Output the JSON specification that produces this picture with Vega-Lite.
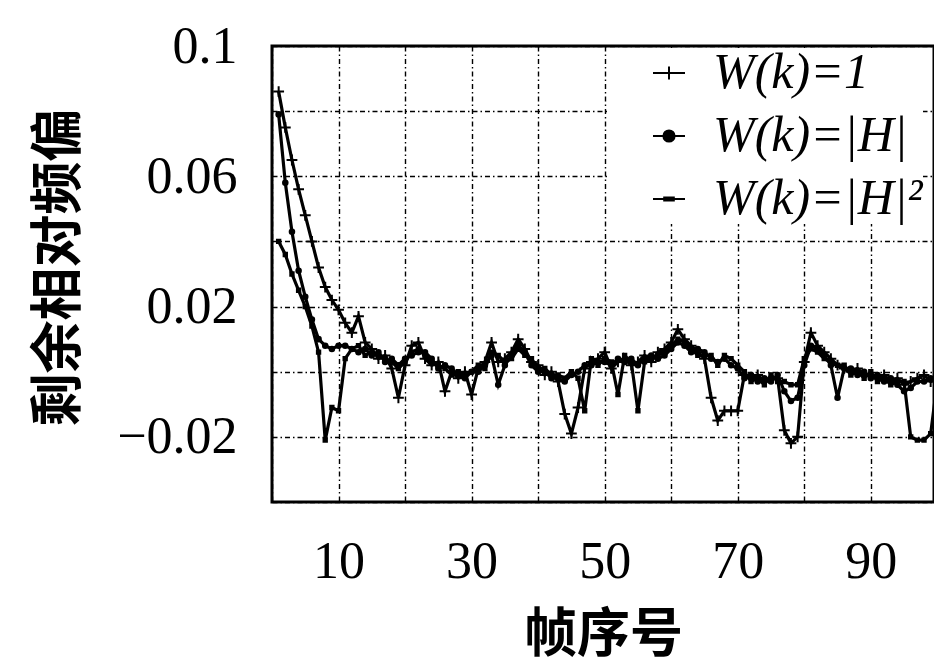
{
"$schema": "https://vega.github.io/schema/vega-lite/v6.json",
"width": 662, "height": 456,
"autosize": {"type": "none"},
"padding": {"left": 272, "top": 46, "right": 0, "bottom": 163},
"background": "white",
"config": {
  "view": {"stroke": "black", "strokeWidth": 3},
  "axis": {"domain": false, "ticks": false, "grid": true, "gridColor": "black", "gridDash": [5, 3, 1.5, 3], "gridWidth": 1.4, "gridOpacity": 1,
    "labelFont": "Liberation Serif", "labelFontSize": 52, "labelColor": "black", "labelOverlap": false, "labelBound": false, "labelFlush": false,
    "titleFont": "Noto Sans CJK SC", "titleFontSize": 53, "titleFontWeight": "bold", "titleColor": "black"}
},
"data": {"values": [
{"k":1,"s":"a","v":0.086},{"k":1,"s":"b","v":0.079},{"k":1,"s":"c","v":0.040},
{"k":2,"s":"a","v":0.075},{"k":2,"s":"b","v":0.058},{"k":2,"s":"c","v":0.036},
{"k":3,"s":"a","v":0.065},{"k":3,"s":"b","v":0.043},{"k":3,"s":"c","v":0.030},
{"k":4,"s":"a","v":0.056},{"k":4,"s":"b","v":0.031},{"k":4,"s":"c","v":0.025},
{"k":5,"s":"a","v":0.048},{"k":5,"s":"b","v":0.023},{"k":5,"s":"c","v":0.020},
{"k":6,"s":"a","v":0.040},{"k":6,"s":"b","v":0.016},{"k":6,"s":"c","v":0.014},
{"k":7,"s":"a","v":0.032},{"k":7,"s":"b","v":0.010},{"k":7,"s":"c","v":0.006},
{"k":8,"s":"a","v":0.026},{"k":8,"s":"b","v":0.008},{"k":8,"s":"c","v":-0.021},
{"k":9,"s":"a","v":0.022},{"k":9,"s":"b","v":0.007},{"k":9,"s":"c","v":-0.011},
{"k":10,"s":"a","v":0.019},{"k":10,"s":"b","v":0.008},{"k":10,"s":"c","v":-0.012},
{"k":11,"s":"a","v":0.015},{"k":11,"s":"b","v":0.008},{"k":11,"s":"c","v":0.004},
{"k":12,"s":"a","v":0.012},{"k":12,"s":"b","v":0.007},{"k":12,"s":"c","v":0.007},
{"k":13,"s":"a","v":0.017},{"k":13,"s":"b","v":0.006},{"k":13,"s":"c","v":0.008},
{"k":14,"s":"a","v":0.009},{"k":14,"s":"b","v":0.007},{"k":14,"s":"c","v":0.005},
{"k":15,"s":"a","v":0.007},{"k":15,"s":"b","v":0.005},{"k":15,"s":"c","v":0.006},
{"k":16,"s":"a","v":0.004},{"k":16,"s":"b","v":0.006},{"k":16,"s":"c","v":0.005},
{"k":17,"s":"a","v":0.005},{"k":17,"s":"b","v":0.003},{"k":17,"s":"c","v":0.004},
{"k":18,"s":"a","v":0.001},{"k":18,"s":"b","v":0.004},{"k":18,"s":"c","v":0.003},
{"k":19,"s":"a","v":-0.008},{"k":19,"s":"b","v":0.002},{"k":19,"s":"c","v":0.001},
{"k":20,"s":"a","v":0.002},{"k":20,"s":"b","v":0.004},{"k":20,"s":"c","v":0.003},
{"k":21,"s":"a","v":0.008},{"k":21,"s":"b","v":0.005},{"k":21,"s":"c","v":0.006},
{"k":22,"s":"a","v":0.009},{"k":22,"s":"b","v":0.006},{"k":22,"s":"c","v":0.007},
{"k":23,"s":"a","v":0.004},{"k":23,"s":"b","v":0.006},{"k":23,"s":"c","v":0.005},
{"k":24,"s":"a","v":0.002},{"k":24,"s":"b","v":0.004},{"k":24,"s":"c","v":0.003},
{"k":25,"s":"a","v":0.003},{"k":25,"s":"b","v":0.001},{"k":25,"s":"c","v":0.002},
{"k":26,"s":"a","v":-0.006},{"k":26,"s":"b","v":0.002},{"k":26,"s":"c","v":0.001},
{"k":27,"s":"a","v":0.000},{"k":27,"s":"b","v":0.001},{"k":27,"s":"c","v":-0.001},
{"k":28,"s":"a","v":-0.002},{"k":28,"s":"b","v":-0.001},{"k":28,"s":"c","v":0.000},
{"k":29,"s":"a","v":0.000},{"k":29,"s":"b","v":-0.002},{"k":29,"s":"c","v":-0.001},
{"k":30,"s":"a","v":-0.007},{"k":30,"s":"b","v":0.000},{"k":30,"s":"c","v":0.000},
{"k":31,"s":"a","v":0.001},{"k":31,"s":"b","v":0.000},{"k":31,"s":"c","v":0.002},
{"k":32,"s":"a","v":0.003},{"k":32,"s":"b","v":0.002},{"k":32,"s":"c","v":0.001},
{"k":33,"s":"a","v":0.009},{"k":33,"s":"b","v":0.005},{"k":33,"s":"c","v":0.006},
{"k":34,"s":"a","v":0.003},{"k":34,"s":"b","v":-0.004},{"k":34,"s":"c","v":0.005},
{"k":35,"s":"a","v":0.004},{"k":35,"s":"b","v":0.002},{"k":35,"s":"c","v":0.003},
{"k":36,"s":"a","v":0.006},{"k":36,"s":"b","v":0.005},{"k":36,"s":"c","v":0.004},
{"k":37,"s":"a","v":0.010},{"k":37,"s":"b","v":0.008},{"k":37,"s":"c","v":0.007},
{"k":38,"s":"a","v":0.007},{"k":38,"s":"b","v":0.006},{"k":38,"s":"c","v":0.005},
{"k":39,"s":"a","v":0.003},{"k":39,"s":"b","v":0.002},{"k":39,"s":"c","v":0.004},
{"k":40,"s":"a","v":0.002},{"k":40,"s":"b","v":0.000},{"k":40,"s":"c","v":0.001},
{"k":41,"s":"a","v":-0.001},{"k":41,"s":"b","v":0.000},{"k":41,"s":"c","v":0.001},
{"k":42,"s":"a","v":0.000},{"k":42,"s":"b","v":-0.002},{"k":42,"s":"c","v":-0.001},
{"k":43,"s":"a","v":-0.003},{"k":43,"s":"b","v":-0.002},{"k":43,"s":"c","v":-0.001},
{"k":44,"s":"a","v":-0.013},{"k":44,"s":"b","v":-0.003},{"k":44,"s":"c","v":-0.002},
{"k":45,"s":"a","v":-0.019},{"k":45,"s":"b","v":-0.001},{"k":45,"s":"c","v":0.000},
{"k":46,"s":"a","v":-0.011},{"k":46,"s":"b","v":0.000},{"k":46,"s":"c","v":-0.002},
{"k":47,"s":"a","v":0.001},{"k":47,"s":"b","v":0.002},{"k":47,"s":"c","v":-0.012},
{"k":48,"s":"a","v":0.003},{"k":48,"s":"b","v":0.002},{"k":48,"s":"c","v":0.004},
{"k":49,"s":"a","v":0.004},{"k":49,"s":"b","v":0.003},{"k":49,"s":"c","v":0.002},
{"k":50,"s":"a","v":0.006},{"k":50,"s":"b","v":0.003},{"k":50,"s":"c","v":0.004},
{"k":51,"s":"a","v":0.001},{"k":51,"s":"b","v":0.002},{"k":51,"s":"c","v":0.003},
{"k":52,"s":"a","v":0.003},{"k":52,"s":"b","v":0.004},{"k":52,"s":"c","v":-0.007},
{"k":53,"s":"a","v":0.004},{"k":53,"s":"b","v":0.003},{"k":53,"s":"c","v":0.005},
{"k":54,"s":"a","v":0.002},{"k":54,"s":"b","v":0.004},{"k":54,"s":"c","v":0.003},
{"k":55,"s":"a","v":0.003},{"k":55,"s":"b","v":0.002},{"k":55,"s":"c","v":-0.012},
{"k":56,"s":"a","v":0.005},{"k":56,"s":"b","v":0.004},{"k":56,"s":"c","v":0.003},
{"k":57,"s":"a","v":0.003},{"k":57,"s":"b","v":0.005},{"k":57,"s":"c","v":0.004},
{"k":58,"s":"a","v":0.006},{"k":58,"s":"b","v":0.004},{"k":58,"s":"c","v":0.005},
{"k":59,"s":"a","v":0.007},{"k":59,"s":"b","v":0.005},{"k":59,"s":"c","v":0.006},
{"k":60,"s":"a","v":0.009},{"k":60,"s":"b","v":0.007},{"k":60,"s":"c","v":0.008},
{"k":61,"s":"a","v":0.013},{"k":61,"s":"b","v":0.009},{"k":61,"s":"c","v":0.010},
{"k":62,"s":"a","v":0.010},{"k":62,"s":"b","v":0.008},{"k":62,"s":"c","v":0.009},
{"k":63,"s":"a","v":0.008},{"k":63,"s":"b","v":0.006},{"k":63,"s":"c","v":0.007},
{"k":64,"s":"a","v":0.006},{"k":64,"s":"b","v":0.007},{"k":64,"s":"c","v":0.005},
{"k":65,"s":"a","v":0.004},{"k":65,"s":"b","v":0.006},{"k":65,"s":"c","v":0.005},
{"k":66,"s":"a","v":-0.008},{"k":66,"s":"b","v":0.004},{"k":66,"s":"c","v":0.005},
{"k":67,"s":"a","v":-0.015},{"k":67,"s":"b","v":0.003},{"k":67,"s":"c","v":0.002},
{"k":68,"s":"a","v":-0.012},{"k":68,"s":"b","v":0.004},{"k":68,"s":"c","v":0.005},
{"k":69,"s":"a","v":-0.012},{"k":69,"s":"b","v":0.002},{"k":69,"s":"c","v":0.004},
{"k":70,"s":"a","v":-0.012},{"k":70,"s":"b","v":0.001},{"k":70,"s":"c","v":0.002},
{"k":71,"s":"a","v":-0.001},{"k":71,"s":"b","v":-0.002},{"k":71,"s":"c","v":0.000},
{"k":72,"s":"a","v":-0.002},{"k":72,"s":"b","v":-0.001},{"k":72,"s":"c","v":-0.003},
{"k":73,"s":"a","v":-0.001},{"k":73,"s":"b","v":-0.003},{"k":73,"s":"c","v":-0.002},
{"k":74,"s":"a","v":-0.003},{"k":74,"s":"b","v":-0.002},{"k":74,"s":"c","v":-0.004},
{"k":75,"s":"a","v":-0.002},{"k":75,"s":"b","v":-0.003},{"k":75,"s":"c","v":-0.001},
{"k":76,"s":"a","v":-0.002},{"k":76,"s":"b","v":-0.001},{"k":76,"s":"c","v":-0.003},
{"k":77,"s":"a","v":-0.018},{"k":77,"s":"b","v":-0.006},{"k":77,"s":"c","v":-0.003},
{"k":78,"s":"a","v":-0.022},{"k":78,"s":"b","v":-0.009},{"k":78,"s":"c","v":-0.004},
{"k":79,"s":"a","v":-0.020},{"k":79,"s":"b","v":-0.008},{"k":79,"s":"c","v":-0.004},
{"k":80,"s":"a","v":0.003},{"k":80,"s":"b","v":0.002},{"k":80,"s":"c","v":0.004},
{"k":81,"s":"a","v":0.012},{"k":81,"s":"b","v":0.008},{"k":81,"s":"c","v":0.007},
{"k":82,"s":"a","v":0.008},{"k":82,"s":"b","v":0.007},{"k":82,"s":"c","v":0.006},
{"k":83,"s":"a","v":0.006},{"k":83,"s":"b","v":0.005},{"k":83,"s":"c","v":0.004},
{"k":84,"s":"a","v":0.004},{"k":84,"s":"b","v":0.002},{"k":84,"s":"c","v":0.003},
{"k":85,"s":"a","v":0.002},{"k":85,"s":"b","v":-0.008},{"k":85,"s":"c","v":0.002},
{"k":86,"s":"a","v":0.001},{"k":86,"s":"b","v":0.001},{"k":86,"s":"c","v":0.002},
{"k":87,"s":"a","v":0.000},{"k":87,"s":"b","v":0.001},{"k":87,"s":"c","v":-0.001},
{"k":88,"s":"a","v":0.001},{"k":88,"s":"b","v":-0.001},{"k":88,"s":"c","v":0.000},
{"k":89,"s":"a","v":-0.001},{"k":89,"s":"b","v":0.000},{"k":89,"s":"c","v":-0.002},
{"k":90,"s":"a","v":-0.001},{"k":90,"s":"b","v":-0.002},{"k":90,"s":"c","v":0.000},
{"k":91,"s":"a","v":-0.002},{"k":91,"s":"b","v":-0.001},{"k":91,"s":"c","v":-0.003},
{"k":92,"s":"a","v":-0.001},{"k":92,"s":"b","v":-0.003},{"k":92,"s":"c","v":-0.002},
{"k":93,"s":"a","v":-0.003},{"k":93,"s":"b","v":-0.002},{"k":93,"s":"c","v":-0.004},
{"k":94,"s":"a","v":-0.002},{"k":94,"s":"b","v":-0.004},{"k":94,"s":"c","v":-0.003},
{"k":95,"s":"a","v":-0.004},{"k":95,"s":"b","v":-0.006},{"k":95,"s":"c","v":-0.003},
{"k":96,"s":"a","v":-0.003},{"k":96,"s":"b","v":-0.005},{"k":96,"s":"c","v":-0.020},
{"k":97,"s":"a","v":-0.002},{"k":97,"s":"b","v":-0.003},{"k":97,"s":"c","v":-0.021},
{"k":98,"s":"a","v":-0.001},{"k":98,"s":"b","v":-0.003},{"k":98,"s":"c","v":-0.021},
{"k":99,"s":"a","v":-0.003},{"k":99,"s":"b","v":-0.002},{"k":99,"s":"c","v":-0.019},
{"k":100,"s":"a","v":-0.002},{"k":100,"s":"b","v":-0.003},{"k":100,"s":"c","v":-0.003}
]},
"encoding": {
  "x": {"field": "k", "type": "quantitative",
    "scale": {"domain": [0, 99.5], "nice": false, "zero": false},
    "axis": {"values": [0, 10, 20, 30, 40, 50, 60, 70, 80, 90], "labelExpr": "datum.value % 20 == 10 ? datum.label : ''",
      "labelPadding": 34, "title": "帧序号", "titleX": 331, "titleY": 149, "titleBaseline": "alphabetic", "titleAlign": "center"}},
  "y": {"field": "v", "type": "quantitative",
    "scale": {"domain": [-0.04, 0.1], "nice": false, "zero": false},
    "axis": {"values": [-0.04, -0.02, 0, 0.02, 0.04, 0.06, 0.08, 0.1],
      "labelExpr": "abs(datum.value-0.1)<1e-6 ? '0.1' : abs(datum.value-0.06)<1e-6 ? '0.06' : abs(datum.value-0.02)<1e-6 ? '0.02' : abs(datum.value+0.02)<1e-6 ? '−0.02' : ''",
      "labelPadding": 35, "labelBaseline": "middle",
      "title": "剩余相对频偏", "titleAngle": -90, "titleX": -197, "titleY": 221, "titleBaseline": "alphabetic", "titleAlign": "center"}}
},
"layer": [
  {"mark": {"type": "line", "color": "black", "strokeWidth": 3.2, "clip": true},
   "encoding": {"detail": {"field": "s", "type": "nominal"}}},
  {"mark": {"type": "point", "fill": "black", "stroke": "black", "strokeWidth": 2, "fillOpacity": 1, "opacity": 1, "size": 144, "clip": true},
   "encoding": {
     "shape": {"field": "s", "type": "nominal",
       "scale": {"domain": ["a", "b", "c"], "range": ["M-0.9,0H0.9M0,-0.9V0.9", "M0.38,0A0.38,0.38,0,1,1,-0.38,0A0.38,0.38,0,1,1,0.38,0Z", "M-0.28,-0.28H0.28V0.28H-0.28Z"]},
       "legend": null}
   }},
  {"transform": [{"filter": "datum.k > 1000"}],
   "mark": {"type": "point", "fill": "black", "stroke": "black", "strokeWidth": 2, "fillOpacity": 1, "opacity": 1, "size": 1024},
   "encoding": {
     "shape": {"field": "s", "type": "nominal",
       "scale": {"domain": ["a", "b", "c"], "range": ["M-1,0H1M0,-0.4V0.4", "M-1,0H1M0.35,0A0.35,0.35,0,1,1,-0.35,0A0.35,0.35,0,1,1,0.35,0Z", "M-1,0H1M-0.3,-0.1H0.3V0.1H-0.3Z"]},
       "legend": {"orient": "none", "legendX": 335, "legendY": 2, "title": null, "fillColor": "white", "padding": 0,
         "labelFont": "Liberation Serif", "labelFontStyle": "italic", "labelFontSize": 50, "labelColor": "black", "labelLimit": 600,
         "labelOffset": 19, "rowPadding": 13, "symbolOffset": 37, "symbolSize": 1024, "symbolStrokeWidth": 2,
         "labelExpr": "datum.value == 'a' ? 'W(k)=1' : datum.value == 'b' ? 'W(k)=|H|' : 'W(k)=|H|²'"}}
   }}
],
"resolve": {"scale": {"shape": "independent"}}
}
